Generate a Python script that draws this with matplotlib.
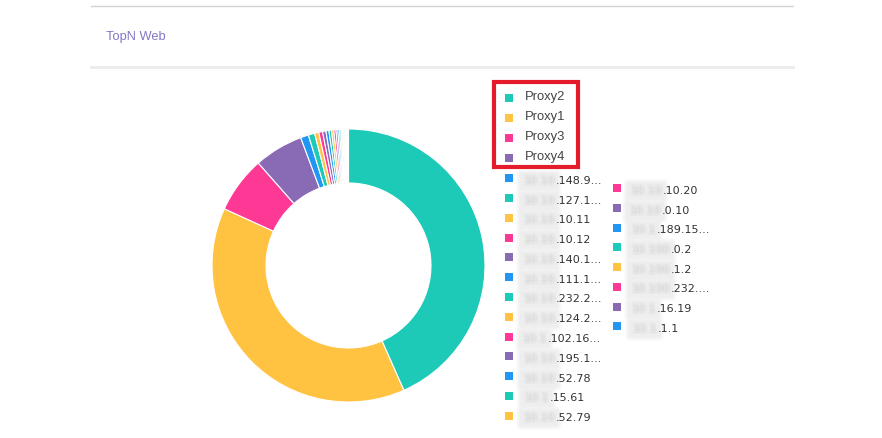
import numpy as np
import matplotlib
matplotlib.use("Agg")
import matplotlib.pyplot as plt
from matplotlib.patches import Rectangle

###########################################################################
# Data
###########################################################################
proxyNames = ["Proxy2", "Proxy1", "Proxy3", "Proxy4"]
proxyValues = [43.4, 38.5, 6.7, 5.8]

# host labels: blurred prefix + visible suffix
hostPrefix = ["10.10", "10.10", "10.10", "10.10", "10.10", "10.10", "10.10",
              "10.10", "10.1", "10.10", "10.10", "10.1", "10.10",
              "10.10", "10.10", "10.1", "10.100", "10.100", "10.100", "10.1", "10.1"]
hostSuffix = [".148.9...", ".127.1...", ".10.11", ".10.12", ".140.1...", ".111.1...",
              ".232.2...", ".124.2...", ".102.16...", ".195.1...", ".52.78", ".15.61",
              ".52.79", ".10.20", ".0.10", ".189.15...", ".0.2", ".1.2", ".232....",
              ".16.19", ".1.1"]
hostValues = [0.95, 0.75, 0.5, 0.45, 0.4, 0.35, 0.3, 0.28, 0.25, 0.22, 0.2,
              0.18, 0.16, 0.14, 0.12, 0.1, 0.09, 0.08, 0.07, 0.06, 0.05]

palette = ["#1dc9b7", "#ffc241", "#fd3995", "#886ab5", "#2196f3"]

###########################################################################
# Helpers
###########################################################################
W, H = 882, 438


def smooth(a, n=5):
    k = np.ones(n) / float(n)
    for axis in (0, 1):
        a = np.apply_along_axis(lambda m: np.convolve(m, k, mode='same'), axis, a)
    return a


def blurFilter(im, dpi):
    pad = 4
    a = np.pad(im, ((pad, pad), (pad, pad), (0, 0)))
    alpha = a[:, :, 3]
    out = np.zeros_like(a)
    alphaB = smooth(alpha)
    for c in range(3):
        out[:, :, c] = smooth(a[:, :, c] * alpha) / np.maximum(alphaB, 1e-6)
    out[:, :, 3] = alphaB
    return np.clip(out, 0, 1), -pad, -pad


###########################################################################
# Figure
###########################################################################
fig = plt.figure(figsize=(W / 100., H / 100.), dpi=100)
fig.patch.set_facecolor('white')

bg = fig.add_axes([0, 0, 1, 1])
bg.set_xlim(0, W)
bg.set_ylim(H, 0)
bg.axis('off')

# card header
bg.plot([91, 793], [6, 6], color='#d4d4d4', lw=1)
bg.plot([91, 793], [66.5, 66.5], color='#ebebeb', lw=2)
bg.text(106, 37, "TopN Web", color='#8577c4', fontsize=9.3,
        family='Liberation Sans', va='center', ha='left')

# donut
cx, cy, r, rIn = 348.5, 265.5, 136.5, 82.5
ax = fig.add_axes([(cx - r) / W, (H - cy - r) / H, 2 * r / W, 2 * r / H])
allValues = proxyValues + hostValues
colors = [palette[i % len(palette)] for i in range(len(allValues))]
ax.pie(allValues, colors=colors, startangle=90, counterclock=False, radius=1,
       wedgeprops=dict(width=(r - rIn) / r, edgecolor='white', linewidth=0.8))
ax.set_xlim(-1, 1)
ax.set_ylim(-1, 1)
ax.set_aspect('equal')
ax.axis('off')

# legend: proxies
for i, name in enumerate(proxyNames):
    y = 98.3 + i * 20
    bg.add_patch(Rectangle((504.5, y - 4), 8, 8, color=palette[i], lw=0))
    bg.text(525, y - 1.5, name, fontsize=9.4, family='Liberation Sans',
            color='#444444', va='center', ha='left')

# legend: hosts
suffixX = [556, 556, 556, 556, 556, 556, 556, 556, 548, 556, 556, 550, 556,
           663, 662, 657, 671, 671, 671, 657, 658]
for j in range(len(hostValues)):
    if j < 13:
        sx = 504.5
        y = 178.3 + j * 19.78
    else:
        sx = 612.5
        y = 188.3 + (j - 13) * 19.72
    bg.add_patch(Rectangle((sx, y - 4), 8, 8, color=colors[j + 4], lw=0))
    t = bg.text(suffixX[j] - 1, y + 2.5, hostPrefix[j], fontsize=8, family='DejaVu Sans',
                color='#c4c4c4', va='center', ha='right',
                bbox=dict(boxstyle='square,pad=0.45', fc='#eeeeee', ec='none'))
    t.set_agg_filter(blurFilter)
    bg.text(suffixX[j], y + 2.5, hostSuffix[j], fontsize=8, family='DejaVu Sans',
            color='#333333', va='center', ha='left')

# highlight box
bg.add_patch(Rectangle((494, 82), 84, 85.2, fill=False, ec='#e51b2b', lw=3))

fig.savefig('out.png', dpi=100, facecolor='white')
